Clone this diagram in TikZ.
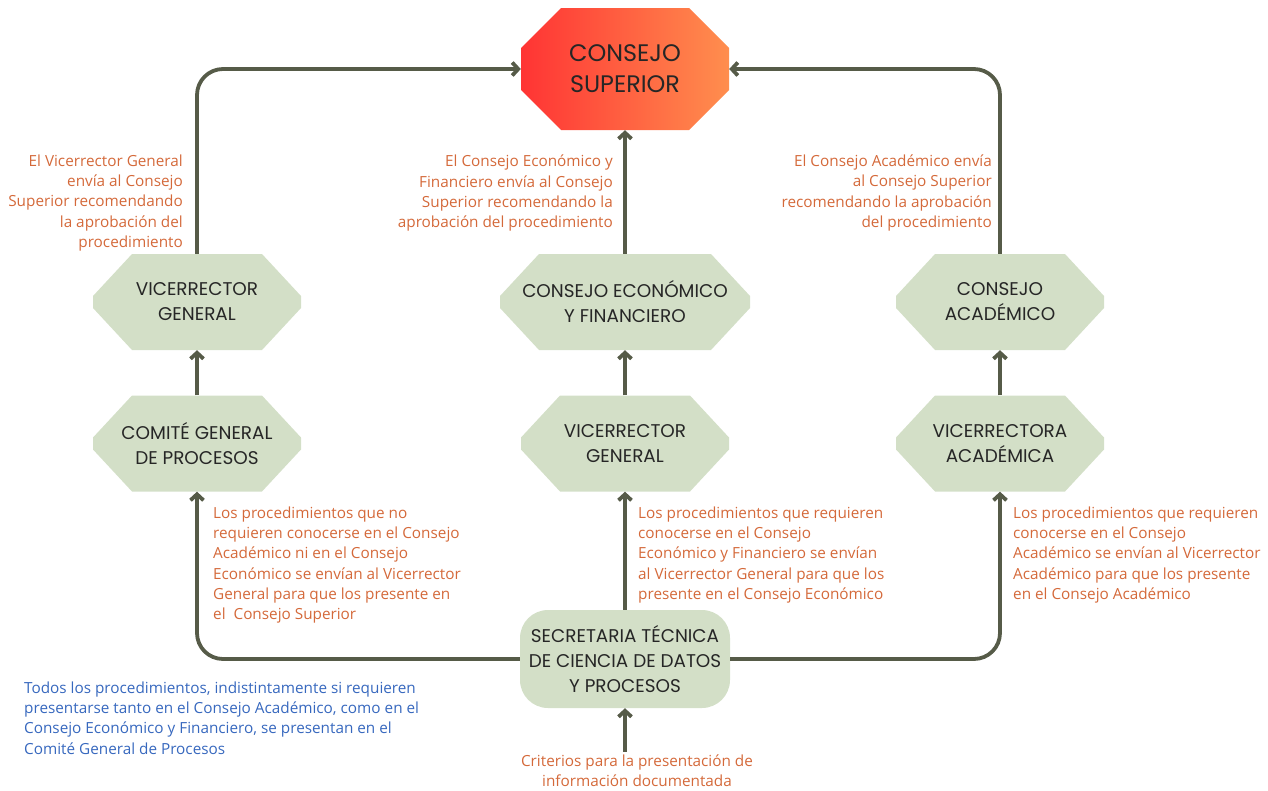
\documentclass[tikz,border=0pt]{standalone}
\usepackage{fontspec}
\setmainfont{Open Sans}
\newfontfamily\poppins{Poppins}
\usetikzlibrary{arrows.meta}

\definecolor{sage}{HTML}{D3DFC7}
\definecolor{linegray}{HTML}{565B48}
\definecolor{notecolor}{HTML}{D4693A}
\definecolor{bluenote}{HTML}{3768BE}
\definecolor{redtop}{HTML}{FF3434}
\definecolor{orangetop}{HTML}{FF8E4E}

\tikzset{
  box/.style={rectangle, inner sep=0pt, align=center, text=black!85,
    font=\poppins\fontsize{18.4}{25}\selectfont},
  hexa/.style={box, minimum width=#1, minimum height=96pt,
    path picture={\fill[sage]
      ([xshift=39pt]path picture bounding box.north west) --
      ([xshift=-39pt]path picture bounding box.north east) --
      ([yshift=6pt]path picture bounding box.east) --
      ([yshift=-6pt]path picture bounding box.east) --
      ([xshift=-39pt]path picture bounding box.south east) --
      ([xshift=39pt]path picture bounding box.south west) --
      ([yshift=-6pt]path picture bounding box.west) --
      ([yshift=6pt]path picture bounding box.west) -- cycle;}},
  hexa/.default=208pt,
  octa/.style={box, minimum width=208pt, minimum height=122pt,
    font=\poppins\fontsize{23.9}{31}\selectfont,
    path picture={\shade[left color=redtop, right color=orangetop]
      ([xshift=40pt]path picture bounding box.north west) --
      ([xshift=-40pt]path picture bounding box.north east) --
      ([yshift=-40pt]path picture bounding box.north east) --
      ([yshift=40pt]path picture bounding box.south east) --
      ([xshift=-40pt]path picture bounding box.south east) --
      ([xshift=40pt]path picture bounding box.south west) --
      ([yshift=40pt]path picture bounding box.south west) --
      ([yshift=-40pt]path picture bounding box.north west) -- cycle;}},
  secbox/.style={box, fill=sage, rounded corners=28pt,
    minimum width=210pt, minimum height=98pt},
  note/.style={inner sep=0pt, text=notecolor,
    font=\fontsize{15.3}{20.3}\selectfont},
  flow/.style={->, line width=3.8pt, draw=linegray, rounded corners=26pt}
}

\begin{document}
\begin{tikzpicture}[x=1pt, y=-1pt, >={Straight Barb[length=6pt, width=13pt]}]
  \useasboundingbox (0,0) rectangle (1268,790);

  % nodos
  \node[octa] (cs) at (625,69) {CONSEJO\\SUPERIOR};
  \node[hexa] (vg) at (197,302) {VICERRECTOR\\GENERAL};
  \node[hexa] (cg) at (197,443.5) {COMITÉ GENERAL\\DE PROCESOS};
  \node[hexa=250pt] (ce) at (625,302) {CONSEJO ECONÓMICO\\Y FINANCIERO};
  \node[hexa] (vgm) at (625,443.5) {VICERRECTOR\\GENERAL};
  \node[hexa] (ca) at (1000,302) {CONSEJO\\ACADÉMICO};
  \node[hexa] (va) at (1000,443.5) {VICERRECTORA\\ACADÉMICA};
  \node[secbox] (st) at (625,659) {SECRETARIA TÉCNICA\\DE CIENCIA DE DATOS\\Y PROCESOS};

  % textos
  \node[note, anchor=north east, align=right] (t1) at (183,154.4)
    {El Vicerrector General\\envía al Consejo\\Superior recomendando\\la aprobación del\\procedimiento};
  \node[note, anchor=north east, align=right] (t2) at (613,155)
    {El Consejo Económico y\\Financiero envía al Consejo\\Superior recomendando la\\aprobación del procedimiento};
  \node[note, anchor=north east, align=right] (t3) at (992,154.5)
    {El Consejo Académico envía\\al Consejo Superior\\recomendando la aprobación\\del procedimiento};
  \node[note, anchor=north west, align=left] (t4) at (213,506.4)
    {Los procedimientos que no\\requieren conocerse en el Consejo\\Académico ni en el Consejo\\Económico se envían al Vicerrector\\General para que los presente en\\el \ Consejo Superior};
  \node[note, anchor=north west, align=left] (t5) at (638,506.4)
    {Los procedimientos que requieren\\conocerse en el Consejo\\Económico y Financiero se envían\\al Vicerrector General para que los\\presente en el Consejo Económico};
  \node[note, anchor=north west, align=left] (t6) at (1013,506.4)
    {Los procedimientos que requieren\\conocerse en el Consejo\\Académico se envían al Vicerrector\\Académico para que los presente\\en el Consejo Académico};
  \node[note, text=bluenote, anchor=north west, align=left] (t7) at (24,681.4)
    {Todos los procedimientos, indistintamente si requieren\\presentarse tanto en el Consejo Académico, como en el\\Consejo Económico y Financiero, se presentan en el\\Comité General de Procesos};
  \node[note, anchor=north, align=center] (cr) at (637,754.5)
    {Criterios para la presentación de\\información documentada};

  % flechas
  \draw[flow] (vg.north) |- (cs.west);
  \draw[flow] (ca.north) |- (cs.east);
  \draw[flow] (ce.north) -- (cs.south);
  \draw[flow] (cg.north) -- (vg.south);
  \draw[flow] (vgm.north) -- (ce.south);
  \draw[flow] (va.north) -- (ca.south);
  \draw[flow] (st.west) -| (cg.south);
  \draw[flow] (st.east) -| (va.south);
  \draw[flow] (st.north) -- (vgm.south);
  \draw[flow] ([yshift=3pt]st.south |- cr.north) -- (st.south);
\end{tikzpicture}
\end{document}
